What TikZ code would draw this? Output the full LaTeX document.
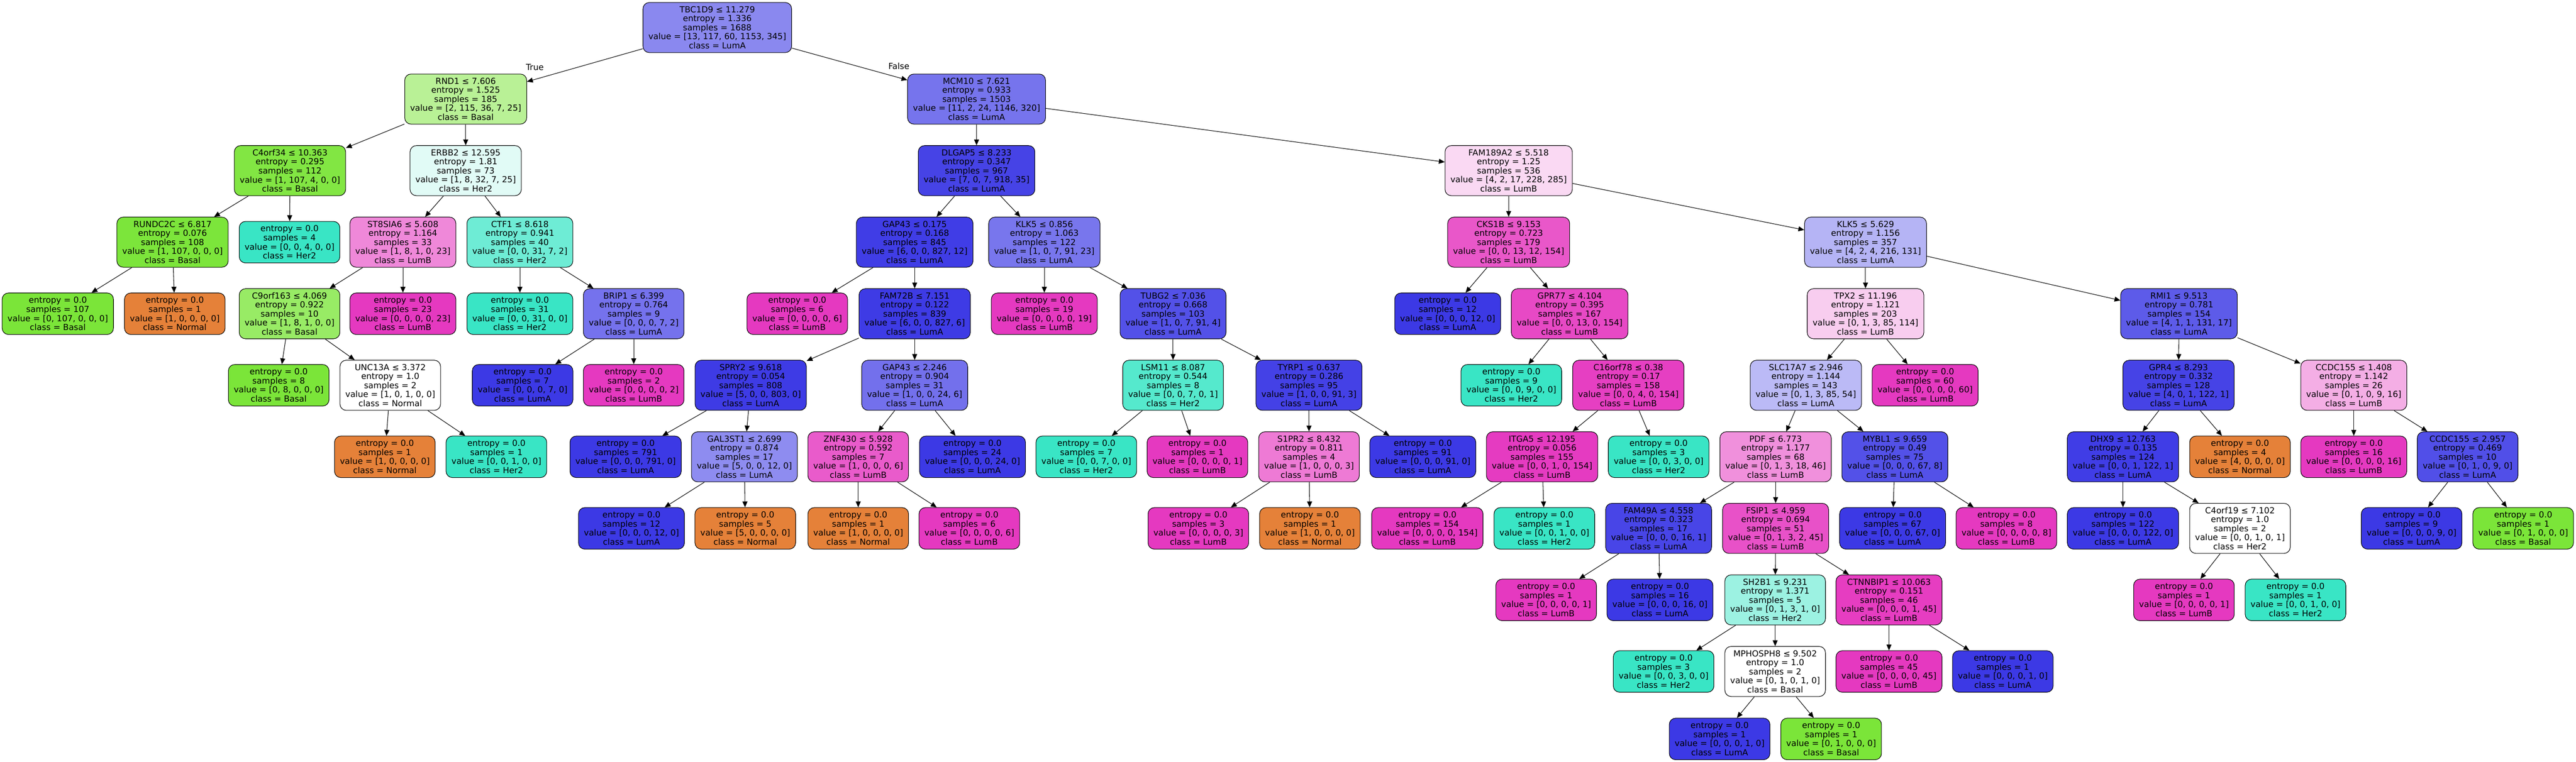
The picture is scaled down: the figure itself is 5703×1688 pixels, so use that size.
\documentclass[tikz,border=0pt]{standalone}
\usepackage{fontspec}
\setmainfont{DejaVu Sans}
\usetikzlibrary{arrows.meta}

\definecolor{cNormal}{RGB}{229,129,57}
\definecolor{cBasal}{RGB}{123,229,57}
\definecolor{cHer2}{RGB}{57,229,197}
\definecolor{cLumA}{RGB}{60,57,229}
\definecolor{cLumB}{RGB}{229,57,192}

\begin{document}
\begin{tikzpicture}[x=0.5pt, y=-0.5pt,
	box/.style={draw, line width=0.6pt, rounded corners=7pt, align=center, inner xsep=6pt, inner ysep=1pt, minimum height=55.5pt, font=\fontsize{9.28pt}{10pt}\selectfont},
	leaf/.style={box, minimum height=46pt},
	branch/.style={-{Triangle[length=6.5pt, width=5.5pt]}, line width=0.6pt}]

			\useasboundingbox (0,0) rectangle (5703,1688);

			% Draw the root and the first split
			\node[box, fill=cLumA!60] (tbc) at (1588,61) {TBC1D9 ≤ 11.279\\entropy = 1.336\\samples = 1688\\value = [13, 117, 60, 1153, 345]\\class = LumA};
			\node[box, fill=cBasal!53] (rnd) at (1031,219.5) {RND1 ≤ 7.606\\entropy = 1.525\\samples = 185\\value = [2, 115, 36, 7, 25]\\class = Basal};
			\node[box, fill=cLumA!70] (mcm) at (2162,219.5) {MCM10 ≤ 7.621\\entropy = 0.933\\samples = 1503\\value = [11, 2, 24, 1146, 320]\\class = LumA};

			\node[font=\fontsize{9.28pt}{10pt}\selectfont] (ltrue) at (1184,149) {True};
			\node[font=\fontsize{9.28pt}{10pt}\selectfont] (lfalse) at (1990,146) {False};

			% Level 2
			\node[box, fill=cBasal!95] (corf) at (642,378) {C4orf34 ≤ 10.363\\entropy = 0.295\\samples = 112\\value = [1, 107, 4, 0, 0]\\class = Basal};
			\node[box, fill=cHer2!15] (erbb) at (1031,378) {ERBB2 ≤ 12.595\\entropy = 1.81\\samples = 73\\value = [1, 8, 32, 7, 25]\\class = Her2};
			\node[box, fill=cLumA!95] (dlgap) at (2162,378) {DLGAP5 ≤ 8.233\\entropy = 0.347\\samples = 967\\value = [7, 0, 7, 918, 35]\\class = LumA};
			\node[box, fill=cLumB!19] (fam189) at (3340,378) {FAM189A2 ≤ 5.518\\entropy = 1.25\\samples = 536\\value = [4, 2, 17, 228, 285]\\class = LumB};

			% Level 3
			\node[box, fill=cBasal!99] (rundc) at (382,536.5) {RUNDC2C ≤ 6.817\\entropy = 0.076\\samples = 108\\value = [1, 107, 0, 0, 0]\\class = Basal};
			\node[leaf, fill=cHer2] (her4) at (641,536.5) {entropy = 0.0\\samples = 4\\value = [0, 0, 4, 0, 0]\\class = Her2};
			\node[box, fill=cLumB!60] (st8) at (892,536.5) {ST8SIA6 ≤ 5.608\\entropy = 1.164\\samples = 33\\value = [1, 8, 1, 0, 23]\\class = LumB};
			\node[box, fill=cHer2!73] (ctf) at (1151,536.5) {CTF1 ≤ 8.618\\entropy = 0.941\\samples = 40\\value = [0, 0, 31, 7, 2]\\class = Her2};
			\node[box, fill=cLumA!98] (gapa) at (2025,536.5) {GAP43 ≤ 0.175\\entropy = 0.168\\samples = 845\\value = [6, 0, 0, 827, 12]\\class = LumA};
			\node[box, fill=cLumA!69] (klka) at (2312,536.5) {KLK5 ≤ 0.856\\entropy = 1.063\\samples = 122\\value = [1, 0, 7, 91, 23]\\class = LumA};
			\node[box, fill=cLumB!85] (cks) at (3340,536.5) {CKS1B ≤ 9.153\\entropy = 0.723\\samples = 179\\value = [0, 0, 13, 12, 154]\\class = LumB};
			\node[box, fill=cLumA!38] (klkb) at (4130,536.5) {KLK5 ≤ 5.629\\entropy = 1.156\\samples = 357\\value = [4, 2, 4, 216, 131]\\class = LumA};

			% Level 4
			\node[leaf, fill=cBasal] (bas107) at (128,695) {entropy = 0.0\\samples = 107\\value = [0, 107, 0, 0, 0]\\class = Basal};
			\node[leaf, fill=cNormal] (nor1a) at (387,695) {entropy = 0.0\\samples = 1\\value = [1, 0, 0, 0, 0]\\class = Normal};
			\node[box, fill=cBasal!78] (c9orf) at (641,695) {C9orf163 ≤ 4.069\\entropy = 0.922\\samples = 10\\value = [1, 8, 1, 0, 0]\\class = Basal};
			\node[leaf, fill=cLumB] (lumb23) at (892,695) {entropy = 0.0\\samples = 23\\value = [0, 0, 0, 0, 23]\\class = LumB};
			\node[leaf, fill=cHer2] (her31) at (1151,695) {entropy = 0.0\\samples = 31\\value = [0, 0, 31, 0, 0]\\class = Her2};
			\node[box, fill=cLumA!71] (brip) at (1403,695) {BRIP1 ≤ 6.399\\entropy = 0.764\\samples = 9\\value = [0, 0, 0, 7, 2]\\class = LumA};
			\node[leaf, fill=cLumB] (lumb6a) at (1765,695) {entropy = 0.0\\samples = 6\\value = [0, 0, 0, 0, 6]\\class = LumB};
			\node[box, fill=cLumA!99] (fam72) at (2025,695) {FAM72B ≤ 7.151\\entropy = 0.122\\samples = 839\\value = [6, 0, 0, 827, 6]\\class = LumA};
			\node[leaf, fill=cLumB] (lumb19) at (2312,695) {entropy = 0.0\\samples = 19\\value = [0, 0, 0, 0, 19]\\class = LumB};
			\node[box, fill=cLumA!88] (tubg) at (2597,695) {TUBG2 ≤ 7.036\\entropy = 0.668\\samples = 103\\value = [1, 0, 7, 91, 4]\\class = LumA};
			\node[leaf, fill=cLumA] (luma12a) at (3205,695) {entropy = 0.0\\samples = 12\\value = [0, 0, 0, 12, 0]\\class = LumA};
			\node[box, fill=cLumB!92] (gpr77) at (3475,695) {GPR77 ≤ 4.104\\entropy = 0.395\\samples = 167\\value = [0, 0, 13, 0, 154]\\class = LumB};
			\node[box, fill=cLumB!25] (tpx) at (4130,695) {TPX2 ≤ 11.196\\entropy = 1.121\\samples = 203\\value = [0, 1, 3, 85, 114]\\class = LumB};
			\node[box, fill=cLumA!83] (rmi) at (4824,695) {RMI1 ≤ 9.513\\entropy = 0.781\\samples = 154\\value = [4, 1, 1, 131, 17]\\class = LumA};

			% Level 5
			\node[leaf, fill=cBasal] (bas8) at (617,853.5) {entropy = 0.0\\samples = 8\\value = [0, 8, 0, 0, 0]\\class = Basal};
			\node[box, fill=white] (unc) at (864,853.5) {UNC13A ≤ 3.372\\entropy = 1.0\\samples = 2\\value = [1, 0, 1, 0, 0]\\class = Normal};
			\node[leaf, fill=cLumA] (luma7) at (1157,853.5) {entropy = 0.0\\samples = 7\\value = [0, 0, 0, 7, 0]\\class = LumA};
			\node[leaf, fill=cLumB] (lumb2) at (1403,853.5) {entropy = 0.0\\samples = 2\\value = [0, 0, 0, 0, 2]\\class = LumB};
			\node[box, fill=cLumA!99] (spry) at (1662,853.5) {SPRY2 ≤ 9.618\\entropy = 0.054\\samples = 808\\value = [5, 0, 0, 803, 0]\\class = LumA};
			\node[box, fill=cLumA!72] (gapb) at (2025,853.5) {GAP43 ≤ 2.246\\entropy = 0.904\\samples = 31\\value = [1, 0, 0, 24, 6]\\class = LumA};
			\node[box, fill=cHer2!86] (lsm) at (2597,853.5) {LSM11 ≤ 8.087\\entropy = 0.544\\samples = 8\\value = [0, 0, 7, 0, 1]\\class = Her2};
			\node[box, fill=cLumA!96] (tyrp) at (2898,853.5) {TYRP1 ≤ 0.637\\entropy = 0.286\\samples = 95\\value = [1, 0, 0, 91, 3]\\class = LumA};
			\node[leaf, fill=cHer2] (her9) at (3346,853.5) {entropy = 0.0\\samples = 9\\value = [0, 0, 9, 0, 0]\\class = Her2};
			\node[box, fill=cLumB!97] (c16) at (3605,853.5) {C16orf78 ≤ 0.38\\entropy = 0.17\\samples = 158\\value = [0, 0, 4, 0, 154]\\class = LumB};
			\node[box, fill=cLumA!35] (slc) at (3998,853.5) {SLC17A7 ≤ 2.946\\entropy = 1.144\\samples = 143\\value = [0, 1, 3, 85, 54]\\class = LumA};
			\node[leaf, fill=cLumB] (lumb60) at (4262,853.5) {entropy = 0.0\\samples = 60\\value = [0, 0, 0, 0, 60]\\class = LumB};
			\node[box, fill=cLumA!95] (gpr4) at (4823,853.5) {GPR4 ≤ 8.293\\entropy = 0.332\\samples = 128\\value = [4, 0, 1, 122, 1]\\class = LumA};
			\node[box, fill=cLumB!41] (ccdca) at (5211,853.5) {CCDC155 ≤ 1.408\\entropy = 1.142\\samples = 26\\value = [0, 1, 0, 9, 16]\\class = LumB};

			% Level 6
			\node[leaf, fill=cNormal] (nor1b) at (852,1012) {entropy = 0.0\\samples = 1\\value = [1, 0, 0, 0, 0]\\class = Normal};
			\node[leaf, fill=cHer2] (her1a) at (1099,1012) {entropy = 0.0\\samples = 1\\value = [0, 0, 1, 0, 0]\\class = Her2};
			\node[leaf, fill=cLumA] (luma791) at (1385,1012) {entropy = 0.0\\samples = 791\\value = [0, 0, 0, 791, 0]\\class = LumA};
			\node[box, fill=cLumA!58] (gal) at (1648,1012) {GAL3ST1 ≤ 2.699\\entropy = 0.874\\samples = 17\\value = [5, 0, 0, 12, 0]\\class = LumA};
			\node[box, fill=cLumB!83] (znf) at (1900,1012) {ZNF430 ≤ 5.928\\entropy = 0.592\\samples = 7\\value = [1, 0, 0, 0, 6]\\class = LumB};
			\node[leaf, fill=cLumA] (luma24) at (2153,1012) {entropy = 0.0\\samples = 24\\value = [0, 0, 0, 24, 0]\\class = LumA};
			\node[leaf, fill=cHer2] (her7) at (2405,1012) {entropy = 0.0\\samples = 7\\value = [0, 0, 7, 0, 0]\\class = Her2};
			\node[leaf, fill=cLumB] (lumb1a) at (2651,1012) {entropy = 0.0\\samples = 1\\value = [0, 0, 0, 0, 1]\\class = LumB};
			\node[box, fill=cLumB!67] (s1pr) at (2898,1012) {S1PR2 ≤ 8.432\\entropy = 0.811\\samples = 4\\value = [1, 0, 0, 0, 3]\\class = LumB};
			\node[leaf, fill=cLumA] (luma91) at (3150,1012) {entropy = 0.0\\samples = 91\\value = [0, 0, 0, 91, 0]\\class = LumA};
			\node[box, fill=cLumB!99] (itga) at (3414,1012) {ITGA5 ≤ 12.195\\entropy = 0.056\\samples = 155\\value = [0, 0, 1, 0, 154]\\class = LumB};
			\node[leaf, fill=cHer2] (her3a) at (3672,1012) {entropy = 0.0\\samples = 3\\value = [0, 0, 3, 0, 0]\\class = Her2};
			\node[box, fill=cLumB!56] (pdf) at (3931,1012) {PDF ≤ 6.773\\entropy = 1.177\\samples = 68\\value = [0, 1, 3, 18, 46]\\class = LumB};
			\node[box, fill=cLumA!88] (mybl) at (4195,1012) {MYBL1 ≤ 9.659\\entropy = 0.49\\samples = 75\\value = [0, 0, 0, 67, 8]\\class = LumA};
			\node[box, fill=cLumA!98] (dhx) at (4700,1012) {DHX9 ≤ 12.763\\entropy = 0.135\\samples = 124\\value = [0, 0, 1, 122, 1]\\class = LumA};
			\node[leaf, fill=cNormal] (nor4) at (4959,1012) {entropy = 0.0\\samples = 4\\value = [4, 0, 0, 0, 0]\\class = Normal};
			\node[leaf, fill=cLumB] (lumb16) at (5211,1012) {entropy = 0.0\\samples = 16\\value = [0, 0, 0, 0, 16]\\class = LumB};
			\node[box, fill=cLumA!89] (ccdcb) at (5463,1012) {CCDC155 ≤ 2.957\\entropy = 0.469\\samples = 10\\value = [0, 1, 0, 9, 0]\\class = LumA};

			% Level 7
			\node[leaf, fill=cLumA] (luma12b) at (1398,1170.5) {entropy = 0.0\\samples = 12\\value = [0, 0, 0, 12, 0]\\class = LumA};
			\node[leaf, fill=cNormal] (nor5) at (1650,1170.5) {entropy = 0.0\\samples = 5\\value = [5, 0, 0, 0, 0]\\class = Normal};
			\node[leaf, fill=cNormal] (nor1c) at (1900,1170.5) {entropy = 0.0\\samples = 1\\value = [1, 0, 0, 0, 0]\\class = Normal};
			\node[leaf, fill=cLumB] (lumb6b) at (2146,1170.5) {entropy = 0.0\\samples = 6\\value = [0, 0, 0, 0, 6]\\class = LumB};
			\node[leaf, fill=cLumB] (lumb3) at (2653,1170.5) {entropy = 0.0\\samples = 3\\value = [0, 0, 0, 0, 3]\\class = LumB};
			\node[leaf, fill=cNormal] (nor1d) at (2900,1170.5) {entropy = 0.0\\samples = 1\\value = [1, 0, 0, 0, 0]\\class = Normal};
			\node[leaf, fill=cLumB] (lumb154) at (3160,1170.5) {entropy = 0.0\\samples = 154\\value = [0, 0, 0, 0, 154]\\class = LumB};
			\node[leaf, fill=cHer2] (her1b) at (3419,1170.5) {entropy = 0.0\\samples = 1\\value = [0, 0, 1, 0, 0]\\class = Her2};
			\node[box, fill=cLumA!94] (fam49) at (3672,1170.5) {FAM49A ≤ 4.558\\entropy = 0.323\\samples = 17\\value = [0, 0, 0, 16, 1]\\class = LumA};
			\node[box, fill=cLumB!88] (fsip) at (3931,1170.5) {FSIP1 ≤ 4.959\\entropy = 0.694\\samples = 51\\value = [0, 1, 3, 2, 45]\\class = LumB};
			\node[leaf, fill=cLumA] (luma67) at (4190,1170.5) {entropy = 0.0\\samples = 67\\value = [0, 0, 0, 67, 0]\\class = LumA};
			\node[leaf, fill=cLumB] (lumb8) at (4442,1170.5) {entropy = 0.0\\samples = 8\\value = [0, 0, 0, 0, 8]\\class = LumB};
			\node[leaf, fill=cLumA] (luma122) at (4700,1170.5) {entropy = 0.0\\samples = 122\\value = [0, 0, 0, 122, 0]\\class = LumA};
			\node[box, fill=white] (c4orf) at (4959,1170.5) {C4orf19 ≤ 7.102\\entropy = 1.0\\samples = 2\\value = [0, 0, 1, 0, 1]\\class = Her2};
			\node[leaf, fill=cLumA] (luma9) at (5339,1170.5) {entropy = 0.0\\samples = 9\\value = [0, 0, 0, 9, 0]\\class = LumA};
			\node[leaf, fill=cBasal] (bas1a) at (5586,1170.5) {entropy = 0.0\\samples = 1\\value = [0, 1, 0, 0, 0]\\class = Basal};

			% Level 8
			\node[leaf, fill=cLumB] (lumb1b) at (3423,1329) {entropy = 0.0\\samples = 1\\value = [0, 0, 0, 0, 1]\\class = LumB};
			\node[leaf, fill=cLumA] (luma16) at (3675,1329) {entropy = 0.0\\samples = 16\\value = [0, 0, 0, 16, 0]\\class = LumA};
			\node[box, fill=cHer2!50] (sh2) at (3930,1329) {SH2B1 ≤ 9.231\\entropy = 1.371\\samples = 5\\value = [0, 1, 3, 1, 0]\\class = Her2};
			\node[box, fill=cLumB!98] (ctnn) at (4182,1329) {CTNNBIP1 ≤ 10.063\\entropy = 0.151\\samples = 46\\value = [0, 0, 0, 1, 45]\\class = LumB};
			\node[leaf, fill=cLumB] (lumb1c) at (4835,1329) {entropy = 0.0\\samples = 1\\value = [0, 0, 0, 0, 1]\\class = LumB};
			\node[leaf, fill=cHer2] (her1c) at (5082,1329) {entropy = 0.0\\samples = 1\\value = [0, 0, 1, 0, 0]\\class = Her2};

			% Level 9
			\node[leaf, fill=cHer2] (her3b) at (3683,1487.5) {entropy = 0.0\\samples = 3\\value = [0, 0, 3, 0, 0]\\class = Her2};
			\node[box, fill=white] (mph) at (3930,1487.5) {MPHOSPH8 ≤ 9.502\\entropy = 1.0\\samples = 2\\value = [0, 1, 0, 1, 0]\\class = Basal};
			\node[leaf, fill=cLumB] (lumb45) at (4182,1487.5) {entropy = 0.0\\samples = 45\\value = [0, 0, 0, 0, 45]\\class = LumB};
			\node[leaf, fill=cLumA] (luma1a) at (4434,1487.5) {entropy = 0.0\\samples = 1\\value = [0, 0, 0, 1, 0]\\class = LumA};

			% Level 10
			\node[leaf, fill=cLumA] (luma1b) at (3807,1637) {entropy = 0.0\\samples = 1\\value = [0, 0, 0, 1, 0]\\class = LumA};
			\node[leaf, fill=cBasal] (bas1b) at (4054,1637) {entropy = 0.0\\samples = 1\\value = [0, 1, 0, 0, 0]\\class = Basal};

			% Draw the branches from each split to its children
			\draw[branch] (tbc) -- (rnd);
			\draw[branch] (tbc) -- (mcm);
			\draw[branch] (rnd) -- (corf);
			\draw[branch] (rnd) -- (erbb);
			\draw[branch] (mcm) -- (dlgap);
			\draw[branch] (mcm) -- (fam189);
			\draw[branch] (corf) -- (rundc);
			\draw[branch] (corf) -- (her4);
			\draw[branch] (erbb) -- (st8);
			\draw[branch] (erbb) -- (ctf);
			\draw[branch] (dlgap) -- (gapa);
			\draw[branch] (dlgap) -- (klka);
			\draw[branch] (fam189) -- (cks);
			\draw[branch] (fam189) -- (klkb);
			\draw[branch] (rundc) -- (bas107);
			\draw[branch] (rundc) -- (nor1a);
			\draw[branch] (st8) -- (c9orf);
			\draw[branch] (st8) -- (lumb23);
			\draw[branch] (ctf) -- (her31);
			\draw[branch] (ctf) -- (brip);
			\draw[branch] (gapa) -- (lumb6a);
			\draw[branch] (gapa) -- (fam72);
			\draw[branch] (klka) -- (lumb19);
			\draw[branch] (klka) -- (tubg);
			\draw[branch] (cks) -- (luma12a);
			\draw[branch] (cks) -- (gpr77);
			\draw[branch] (klkb) -- (tpx);
			\draw[branch] (klkb) -- (rmi);
			\draw[branch] (c9orf) -- (bas8);
			\draw[branch] (c9orf) -- (unc);
			\draw[branch] (brip) -- (luma7);
			\draw[branch] (brip) -- (lumb2);
			\draw[branch] (fam72) -- (spry);
			\draw[branch] (fam72) -- (gapb);
			\draw[branch] (tubg) -- (lsm);
			\draw[branch] (tubg) -- (tyrp);
			\draw[branch] (gpr77) -- (her9);
			\draw[branch] (gpr77) -- (c16);
			\draw[branch] (tpx) -- (slc);
			\draw[branch] (tpx) -- (lumb60);
			\draw[branch] (rmi) -- (gpr4);
			\draw[branch] (rmi) -- (ccdca);
			\draw[branch] (unc) -- (nor1b);
			\draw[branch] (unc) -- (her1a);
			\draw[branch] (spry) -- (luma791);
			\draw[branch] (spry) -- (gal);
			\draw[branch] (gapb) -- (znf);
			\draw[branch] (gapb) -- (luma24);
			\draw[branch] (lsm) -- (her7);
			\draw[branch] (lsm) -- (lumb1a);
			\draw[branch] (tyrp) -- (s1pr);
			\draw[branch] (tyrp) -- (luma91);
			\draw[branch] (c16) -- (itga);
			\draw[branch] (c16) -- (her3a);
			\draw[branch] (slc) -- (pdf);
			\draw[branch] (slc) -- (mybl);
			\draw[branch] (gpr4) -- (dhx);
			\draw[branch] (gpr4) -- (nor4);
			\draw[branch] (ccdca) -- (lumb16);
			\draw[branch] (ccdca) -- (ccdcb);
			\draw[branch] (gal) -- (luma12b);
			\draw[branch] (gal) -- (nor5);
			\draw[branch] (znf) -- (nor1c);
			\draw[branch] (znf) -- (lumb6b);
			\draw[branch] (s1pr) -- (lumb3);
			\draw[branch] (s1pr) -- (nor1d);
			\draw[branch] (itga) -- (lumb154);
			\draw[branch] (itga) -- (her1b);
			\draw[branch] (pdf) -- (fam49);
			\draw[branch] (pdf) -- (fsip);
			\draw[branch] (mybl) -- (luma67);
			\draw[branch] (mybl) -- (lumb8);
			\draw[branch] (dhx) -- (luma122);
			\draw[branch] (dhx) -- (c4orf);
			\draw[branch] (ccdcb) -- (luma9);
			\draw[branch] (ccdcb) -- (bas1a);
			\draw[branch] (fam49) -- (lumb1b);
			\draw[branch] (fam49) -- (luma16);
			\draw[branch] (fsip) -- (sh2);
			\draw[branch] (fsip) -- (ctnn);
			\draw[branch] (c4orf) -- (lumb1c);
			\draw[branch] (c4orf) -- (her1c);
			\draw[branch] (sh2) -- (her3b);
			\draw[branch] (sh2) -- (mph);
			\draw[branch] (ctnn) -- (lumb45);
			\draw[branch] (ctnn) -- (luma1a);
			\draw[branch] (mph) -- (luma1b);
			\draw[branch] (mph) -- (bas1b);

\end{tikzpicture}
\end{document}
